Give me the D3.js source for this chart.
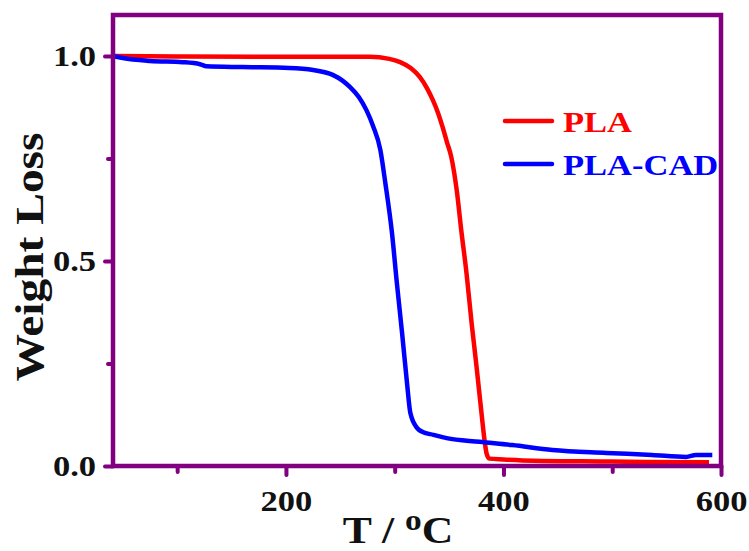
<!DOCTYPE html>
<html>
<head>
<meta charset="utf-8">
<script src="https://cdn.jsdelivr.net/npm/d3@7"></script>
<style>
  body { margin: 0; background: #fff; }
  text { font-family: "Liberation Serif", "Tinos", "Times New Roman", serif; font-weight: bold; }
</style>
</head>
<body>
<div id="chart"></div>
<script>
// TGA curves: temperature (oC) and remaining weight fraction
var plaT = [41, 100, 200, 277, 295, 305, 315, 323, 330, 335, 340, 344, 348, 352, 357, 361.5, 366, 370.7, 375.3, 379.8, 382.5, 384.5, 387, 400, 427, 500, 531, 589];
var plaW = [1.0, 0.999, 0.998, 0.998, 0.993, 0.985, 0.97, 0.949, 0.92, 0.893, 0.86, 0.827, 0.79, 0.754, 0.673, 0.568, 0.471, 0.349, 0.241, 0.129, 0.065, 0.03, 0.018, 0.016, 0.013, 0.011, 0.01, 0.009];

var cadT = [41, 50, 75, 105, 121, 127, 160, 203, 225, 243, 252, 259, 267, 274, 280, 286.8, 291.4, 297.5, 302, 306.8, 311.4, 314.4, 320.5, 325.7, 335.6, 347.7, 378, 408, 445, 494.5, 536.7, 568, 577, 592];
var cadW = [1.0, 0.995, 0.988, 0.985, 0.98, 0.975, 0.973, 0.971, 0.966, 0.954, 0.94, 0.924, 0.9, 0.868, 0.83, 0.771, 0.69, 0.568, 0.446, 0.324, 0.2, 0.129, 0.093, 0.083, 0.076, 0.068, 0.059, 0.051, 0.039, 0.032, 0.027, 0.022, 0.027, 0.027];

var seriesNames = ["PLA", "PLA-CAD"];
var seriesColors = ["#ff0000", "#0000ff"];

var xMajor = [200, 400, 600];
var xMinor = [100, 300, 500];
var yMajor = [0.0, 0.5, 1.0];
var yMinor = [0.25, 0.75];

var purple = "#800080";
var stretch = 1.15;   // the original lettering is wider than Liberation Serif

var width = 749, height = 551;
var margin = {top: 15, right: 28, bottom: 85, left: 113};

var svg = d3.select("#chart")
    .append("svg")
        .attr("width", width)
        .attr("height", height);

var x = d3.scaleLinear()
    .domain([41, 600])
    .range([margin.left, width - margin.right]);

var y = d3.scaleLinear()
    .domain([0, 1.1])
    .range([height - margin.bottom, margin.top]);

// curves
var line = d3.line()
    .curve(d3.curveMonotoneX)
    .x(function(d) { return x(d[0]); })
    .y(function(d) { return y(d[1]); });

var curves = [d3.zip(plaT, plaW), d3.zip(cadT, cadW)];

svg.selectAll("path.curve")
    .data(curves)
    .enter().append("path")
        .attr("class", "curve")
        .attr("d", line)
        .attr("fill", "none")
        .attr("stroke", function(d, i) { return seriesColors[i]; })
        .attr("stroke-width", 4.5)
        .attr("stroke-linejoin", "round");

// axes (major with labels, minor without)
function styleAxis(g) {
    g.select(".domain").remove();
    g.selectAll(".tick line")
        .attr("stroke", purple)
        .attr("stroke-width", 4)
        .attr("stroke-linecap", "round");
    g.selectAll(".tick text")
        .attr("fill", "#111")
        .style("font-size", "30px")
        .attr("lengthAdjust", "spacingAndGlyphs")
        .attr("textLength", function() { return this.getComputedTextLength() * stretch; });
}

svg.append("g")
    .attr("transform", "translate(0," + y(0) + ")")
    .call(d3.axisBottom(x).tickValues(xMajor).tickSize(9).tickPadding(15).tickFormat(d3.format("d")))
    .call(styleAxis);

svg.append("g")
    .attr("transform", "translate(0," + y(0) + ")")
    .call(d3.axisBottom(x).tickValues(xMinor).tickSize(6).tickFormat(""))
    .call(styleAxis);

svg.append("g")
    .attr("transform", "translate(" + margin.left + ",0)")
    .call(d3.axisLeft(y).tickValues(yMajor).tickSize(8).tickPadding(9).tickFormat(d3.format(".1f")))
    .call(styleAxis);

svg.append("g")
    .attr("transform", "translate(" + margin.left + ",0)")
    .call(d3.axisLeft(y).tickValues(yMinor).tickSize(5).tickFormat(""))
    .call(styleAxis);

// frame box
svg.append("rect")
    .attr("x", margin.left)
    .attr("y", margin.top)
    .attr("width", width - margin.left - margin.right)
    .attr("height", y(0) - margin.top)
    .attr("fill", "none")
    .attr("stroke", purple)
    .attr("stroke-width", 4.5);

// legend
var legend = svg.append("g");
seriesNames.forEach(function(name, i) {
    var ly = 121 + i * 43;
    legend.append("line")
        .attr("x1", 505).attr("x2", 552)
        .attr("y1", ly).attr("y2", ly)
        .attr("stroke", seriesColors[i])
        .attr("stroke-width", 4.5)
        .attr("stroke-linecap", "round");
    var t = legend.append("text")
        .attr("x", 563)
        .attr("y", ly + 11)
        .attr("fill", seriesColors[i])
        .style("font-size", "30px")
        .text(name);
    t.attr("lengthAdjust", "spacingAndGlyphs")
        .attr("textLength", t.node().getComputedTextLength() * stretch);
});

// axis titles
var yTitle = svg.append("text")
    .attr("transform", "translate(43,257) rotate(-90)")
    .attr("text-anchor", "middle")
    .attr("fill", "#111")
    .style("font-size", "41px")
    .text("Weight Loss");
yTitle.attr("lengthAdjust", "spacingAndGlyphs")
    .attr("textLength", 249);

var xTitle = svg.append("text")
    .attr("transform", "translate(398,543) scale(" + stretch + ",1)")
    .attr("text-anchor", "middle")
    .attr("fill", "#111")
    .style("font-size", "38px");
xTitle.append("tspan").text("T / ");
xTitle.append("tspan").style("font-size", "29px").attr("dy", -13).text("o");
xTitle.append("tspan").attr("dy", 13).text("C");
</script>
</body>
</html>
